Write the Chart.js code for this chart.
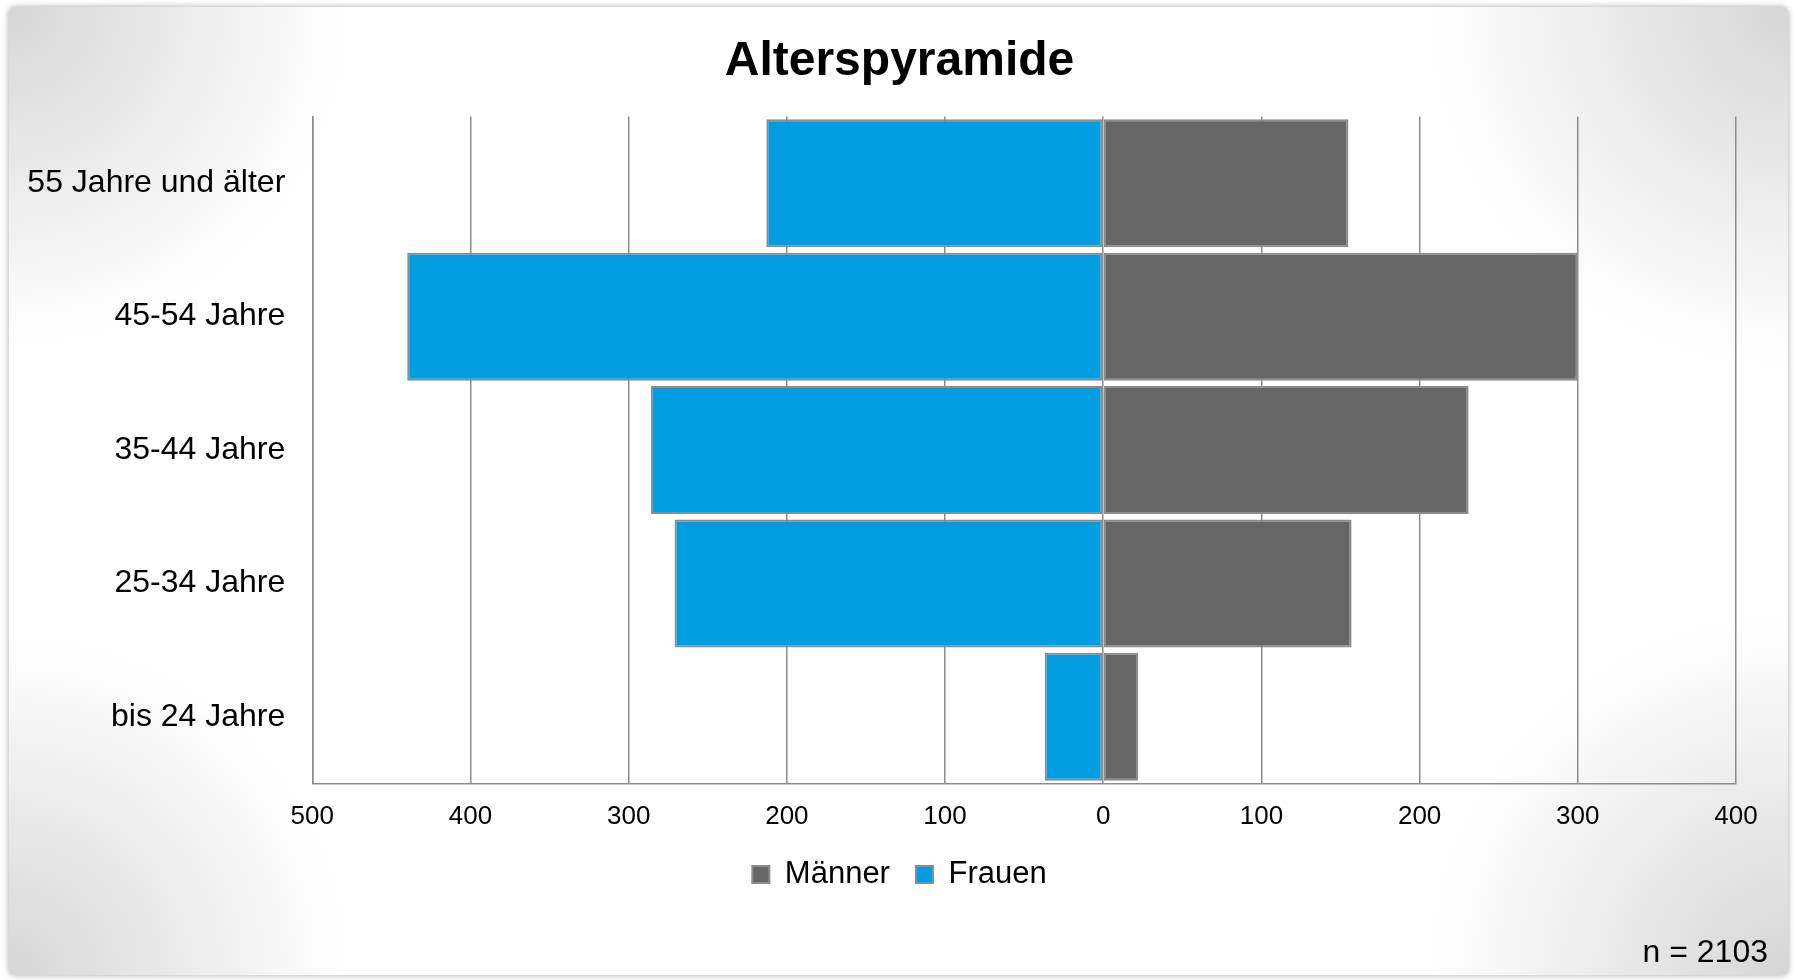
<!DOCTYPE html>
<html lang="de">
<head>
<meta charset="utf-8">
<title>Alterspyramide</title>
<script src="https://cdn.jsdelivr.net/npm/chart.js"></script>
<style>
  html, body {
    margin: 0;
    padding: 0;
    background: #fff;
    font-family: "Liberation Sans", Arial, sans-serif;
  }
  .wrap {
    position: relative;
    width: 1794px;
    height: 980px;
    overflow: hidden;
  }
  /* Karte mit grauen Ecken wie im Office-Stil */
  .card {
    position: absolute;
    left: 9px;
    top: 7px;
    width: 1779px;
    height: 968px;
    border-radius: 6px;
    box-shadow: 0 0 6px rgba(0, 0, 0, 0.35);
    background:
      radial-gradient(circle at 0 0, #d6d6d6 0, rgba(255,255,255,0) 340px),
      radial-gradient(circle at 100% 0, #d6d6d6 0, rgba(255,255,255,0) 360px),
      radial-gradient(circle at 0 100%, #d6d6d6 0, rgba(255,255,255,0) 340px),
      radial-gradient(circle at 100% 100%, #d6d6d6 0, rgba(255,255,255,0) 360px),
      #fff;
  }
  .chart-box {
    position: absolute;
    left: 0;
    top: 0;
    width: 1794px;
    height: 980px;
  }
  .note {
    position: absolute;
    right: 26px;
    top: 933px;
    font-size: 32px;
    line-height: 36px;
    color: #000;
  }
</style>
</head>
<body>
<div class="wrap">
  <div class="card"></div>
  <div class="chart-box"><canvas id="pyramide"></canvas></div>
  <div class="note">n = 2103</div>
</div>

<script>
  // 1) Daten
  const altersgruppen = ['55 Jahre und älter', '45-54 Jahre', '35-44 Jahre', '25-34 Jahre', 'bis 24 Jahre'];
  const maenner = [155, 300, 231, 157, 22];
  const frauen  = [213, 440, 286, 271, 37];
  const xTicks  = [-500, -400, -300, -200, -100, 0, 100, 200, 300, 400];

  const schrift = '"Liberation Sans", Arial, sans-serif';
  const rahmen  = '#8c8c8c';

  // 2) Frauen nach links (negativ), Männer nach rechts
  const datasets = [
    {
      label: 'Männer',
      data: maenner,
      backgroundColor: '#666666',
      borderColor: rahmen,
      borderWidth: 2,
      borderSkipped: false
    },
    {
      label: 'Frauen',
      data: frauen.map(v => -v),
      backgroundColor: '#009ee0',
      borderColor: rahmen,
      borderWidth: 2,
      borderSkipped: false
    }
  ];

  // die langen Achsenbeschriftungen links nicht abschneiden
  const labelRaum = {
    id: 'labelRaum',
    afterLayout: chart => { chart.scales.y.left = 0; }
  };

  // 3) Chart
  new Chart(document.getElementById('pyramide'), {
    type: 'bar',
    data: { labels: altersgruppen, datasets },
    plugins: [labelRaum],
    options: {
      indexAxis: 'y',
      responsive: true,
      maintainAspectRatio: false,
      animation: false,
      barPercentage: 0.96,
      categoryPercentage: 1,
      layout: { padding: { top: 0, left: 63, right: 58, bottom: 80 } },
      plugins: {
        title: {
          display: true,
          text: 'Alterspyramide',
          color: '#000',
          font: { family: schrift, size: 48, weight: 'bold' },
          padding: { top: 33, bottom: 26 }
        },
        legend: {
          position: 'bottom',
          labels: {
            color: '#000',
            font: { family: schrift, size: 31 },
            boxWidth: 17,
            boxHeight: 17,
            padding: 26
          }
        },
        tooltip: { enabled: false }
      },
      scales: {
        x: {
          stacked: true,
          min: -500,
          max: 400,
          afterBuildTicks: scale => {
            scale.ticks = xTicks.map(v => ({ value: v }));
          },
          afterFit: scale => { scale.height = 49.5; },
          ticks: {
            color: '#000',
            font: { family: schrift, size: 26 },
            padding: 18,
            callback: v => Math.abs(v)
          },
          grid: { color: rahmen, lineWidth: 1.5, drawTicks: false },
          border: { display: true, color: rahmen, width: 1.5 }
        },
        y: {
          stacked: true,
          afterFit: scale => { scale.width = 249.3; },
          ticks: {
            color: '#000',
            font: { family: schrift, size: 32 },
            padding: 27
          },
          grid: { display: false, drawTicks: false },
          border: { display: true, color: rahmen, width: 1.5 }
        }
      }
    }
  });
</script>
</body>
</html>
